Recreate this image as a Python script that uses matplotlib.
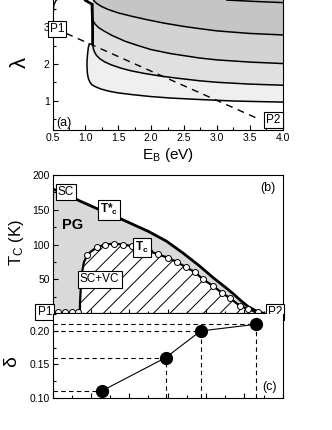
import matplotlib
matplotlib.use("Agg")
import matplotlib.pyplot as plt
from matplotlib.ticker import MultipleLocator

plt.rcParams['font.family'] = ['Liberation Sans', 'DejaVu Sans']
plt.rcParams['mathtext.fontset'] = 'custom'
plt.rcParams['mathtext.rm'] = 'Liberation Sans'
plt.rcParams['mathtext.it'] = 'Liberation Sans:italic'
plt.rcParams['mathtext.bf'] = 'Liberation Sans:bold'
plt.rcParams['hatch.linewidth'] = 0.7

# ---- panel (a): lambda vs E_B contours ----
c1_x = [1.06, 1.045, 1.035, 1.025, 1.025, 1.03, 1.045, 1.07, 1.1, 1.15, 1.23, 1.35,
        1.5, 1.73, 2.0, 2.3, 2.74, 3.25, 3.6, 4.0]
c1_y = [2.55, 2.45, 2.3, 2.1, 1.9, 1.75, 1.6, 1.5, 1.43, 1.38, 1.32, 1.26,
        1.21, 1.16, 1.11, 1.07, 1.03, 0.99, 0.975, 0.96]
c2_x = [1.11, 1.11, 1.12, 1.14, 1.17, 1.22, 1.3, 1.4, 1.55, 1.7, 1.9, 2.14,
        2.4, 2.74, 3.0, 3.5, 4.0]
c2_y = [3.63, 2.55, 2.42, 2.32, 2.23, 2.14, 2.05, 1.97, 1.88, 1.81, 1.74, 1.67,
        1.61, 1.54, 1.5, 1.45, 1.42]
c3_x = [1.11, 1.12, 1.15, 1.2, 1.28, 1.4, 1.6, 1.8, 2.0, 2.3, 2.74, 3.0, 3.5, 4.0]
c3_y = [3.25, 3.17, 3.08, 2.99, 2.9, 2.78, 2.62, 2.5, 2.39, 2.28, 2.16, 2.11, 2.05, 2.01]
c4_x = [1.11, 1.13, 1.17, 1.25, 1.35, 1.5, 1.7, 1.95, 2.2, 2.5, 2.74, 3.0, 3.5, 4.0]
c4_y = [3.8, 3.72, 3.65, 3.56, 3.48, 3.39, 3.3, 3.2, 3.11, 3.02, 2.96, 2.9, 2.83, 2.79]
c5_x = [3.15, 3.6, 4.0]
c5_y = [3.74, 3.7, 3.67]
wall_x = [0.95, 1.0, 1.1, 1.11, 1.11]
wall_y = [3.85, 3.73, 3.63, 3.0, 2.55]
edge_x = [0.515, 0.52, 0.55, 0.6]
edge_y = [3.45, 3.6, 3.72, 3.8]
path_x = [0.71, 3.66]
path_y = [2.83, 0.48]

# ---- panel (b): temperatures along the path P1 -> P2 ----
tstar_x = [0.0, 0.3, 0.7, 1.23, 1.7, 2.1, 2.5, 2.97, 3.4, 3.84, 4.2, 4.5, 4.7, 4.9, 5.1, 5.3]
tstar_y = [180, 174, 163, 150, 139, 129, 119, 105, 88, 69, 52, 39, 30, 20, 11, 5]
tc_x = [0.71, 0.72, 0.74, 0.77, 0.82, 0.90, 1.0, 1.15, 1.37, 1.60, 1.84, 2.07, 2.30, 2.52,
        2.75, 3.02, 3.24, 3.47, 3.71, 3.93, 4.19, 4.41, 4.63, 4.84, 5.10, 5.32, 5.50]
tc_y = [0, 20, 40, 60, 75, 84.5, 90, 96, 100, 101.5, 100, 98, 95, 91,
        86, 81, 75, 68, 60.5, 50, 40.5, 31, 23, 14, 7, 3.5, 2]
dots_x = [0.14, 0.32, 0.50, 0.66, 0.90, 1.15, 1.37, 1.60, 1.84, 2.07, 2.30, 2.52, 2.75,
          3.02, 3.24, 3.47, 3.71, 3.93, 4.19, 4.41, 4.63, 4.89, 5.10, 5.36]
dots_y = [3, 3, 3, 3, 84.5, 96, 100, 101.5, 100, 98, 95, 91, 86,
          81, 75, 68, 60.5, 50, 40.5, 31, 23, 12, 7, 3.5]

# ---- panel (c): delta ----
delta_x = [1.28, 2.95, 3.86, 5.30]
delta = [0.11, 0.16, 0.20, 0.21]

fig = plt.figure(figsize=(3.32, 4.30), dpi=100)
W, H = 332.0, 430.0
ax_a = fig.add_axes([52.5 / W, 1 - 130 / H, 230.2 / W, 139.5 / H])
ax_b = fig.add_axes([52.5 / W, 1 - 314.3 / H, 230.2 / W, 139.3 / H])
ax_c = fig.add_axes([52.5 / W, 1 - 397.7 / H, 230.2 / W, 83.4 / H])

box = dict(boxstyle='square,pad=0.18', fc='white', ec='black', lw=0.8)

# (a)
top = 4.0
shades = ['#efefef', '#e0e0e0', '#d3d3d3', '#c5c5c5', '#bababa']
fills = [
    ([1.11, 1.11] + c1_x + [4.0], [top, 2.6] + c1_y + [top]),
    ([1.11] + c2_x + [4.0], [top] + c2_y + [top]),
    ([1.11] + c3_x + [4.0], [top] + c3_y + [top]),
    ([1.11] + c4_x + [4.0], [top] + c4_y + [top]),
    (c5_x + [4.0], c5_y + [top]),
]
for (fx, fy), col in zip(fills, shades):
    ax_a.fill(fx, fy, color=col, lw=0)
for cx, cy in [(c1_x, c1_y), (c2_x, c2_y), (c3_x, c3_y), (c4_x, c4_y), (c5_x, c5_y)]:
    ax_a.plot(cx, cy, color='black', lw=1.1)
ax_a.plot(wall_x, wall_y, color='black', lw=2.0)
ax_a.plot(edge_x, edge_y, color='black', lw=1.0)
ax_a.plot(path_x, path_y, color='black', lw=1.0, dashes=(5, 4))
ax_a.text(0.57, 2.96, 'P1', fontsize=8.5, ha='center', va='center', bbox=box, zorder=5)
ax_a.text(3.86, 0.47, 'P2', fontsize=8.5, ha='center', va='center', bbox=box, zorder=5)
ax_a.text(0.55, 0.3, '(a)', fontsize=9)
ax_a.set_xlim(0.5, 4.0)
ax_a.set_ylim(0.2, top)
ax_a.xaxis.set_major_locator(MultipleLocator(0.5))
ax_a.xaxis.set_minor_locator(MultipleLocator(0.25))
ax_a.set_yticks([1, 2, 3])
ax_a.yaxis.set_minor_locator(MultipleLocator(0.5))
ax_a.set_xlabel('E$_\\mathrm{B}$ (eV)', fontsize=11, labelpad=2)
fig.text(20 / W, 1 - 62 / H, 'λ', fontsize=16, rotation=90, ha='center', va='center')

# (b)
ax_b.fill(tstar_x + [tstar_x[-1], 0], tstar_y + [0, 0], color='#d9d9d9', lw=0)
ax_b.fill(tc_x, tc_y, facecolor='white', edgecolor='black', hatch='//', lw=0)
ax_b.plot(tstar_x, tstar_y, color='black', lw=2.0)
ax_b.plot(tc_x, tc_y, color='black', lw=1.6)
ax_b.plot(dots_x, dots_y, 'o', ms=4.3, mfc='white', mec='black', mew=0.7, clip_on=False)
ax_b.text(0.35, 176, 'SC', fontsize=8.5, ha='center', va='center', bbox=box, zorder=5)
ax_b.text(1.47, 150, 'T*$_\\mathbf{c}$', fontsize=8.5, fontweight='bold',
          ha='center', va='center', bbox=box, zorder=5)
ax_b.text(0.53, 128, 'PG', fontsize=10.5, fontweight='bold', ha='center', va='center')
ax_b.text(2.33, 96, 'T$_\\mathbf{c}$', fontsize=8.5, fontweight='bold',
          ha='center', va='center', bbox=box, zorder=5)
ax_b.text(1.23, 50, 'SC+VC', fontsize=8.5, ha='center', va='center', bbox=box, zorder=5)
ax_b.text(-0.2, 3, 'P1', fontsize=8.5, ha='center', va='center', bbox=box, zorder=6)
ax_b.text(5.8, 3, 'P2', fontsize=8.5, ha='center', va='center', bbox=box, zorder=6)
ax_b.text(5.8, 181, '(b)', fontsize=9, ha='right', va='center')
ax_b.set_xlim(0, 6)
ax_b.set_ylim(0, 200)
ax_b.xaxis.set_major_locator(MultipleLocator(1))
ax_b.xaxis.set_minor_locator(MultipleLocator(0.5))
ax_b.set_yticks([50, 100, 150, 200])
ax_b.yaxis.set_minor_locator(MultipleLocator(25))
ax_b.set_xticklabels([])
fig.text(16 / W, 1 - 243 / H, 'T$_\\mathrm{C}$ (K)', fontsize=12, rotation=90,
         ha='center', va='center')

# (c)
for x, d in zip(delta_x, delta):
    ax_c.plot([0, x], [d, d], color='black', lw=0.8, dashes=(4, 3))
    ax_c.plot([x, x], [0.10, d], color='black', lw=0.8, dashes=(4, 3))
ax_c.plot(delta_x, delta, color='black', lw=0.8)
ax_c.plot(delta_x, delta, 'o', ms=8.5, color='black', zorder=4)
ax_c.text(5.85, 0.107, '(c)', fontsize=9, ha='right', va='bottom')
ax_c.set_xlim(0, 6)
ax_c.set_ylim(0.10, 0.225)
ax_c.xaxis.set_major_locator(MultipleLocator(1))
ax_c.xaxis.set_minor_locator(MultipleLocator(0.5))
ax_c.set_yticks([0.10, 0.15, 0.20])
ax_c.yaxis.set_minor_locator(MultipleLocator(0.025))
ax_c.set_yticklabels(['0.10', '0.15', '0.20'])
ax_c.set_xticklabels([])
ax_c.spines['top'].set_visible(False)
fig.text(12 / W, 1 - 362 / H, 'δ', fontsize=14, rotation=90, ha='center', va='center')

for ax in (ax_a, ax_b, ax_c):
    ax.tick_params(which='both', direction='in', labelsize=7.5, width=0.8, pad=2)
    ax.tick_params(which='major', length=3.5)
    ax.tick_params(which='minor', length=2)
    for s in ax.spines.values():
        s.set_linewidth(0.8)
ax_b.spines['bottom'].set_linewidth(1.6)

fig.savefig('out.png', dpi=100)
plt.close()
